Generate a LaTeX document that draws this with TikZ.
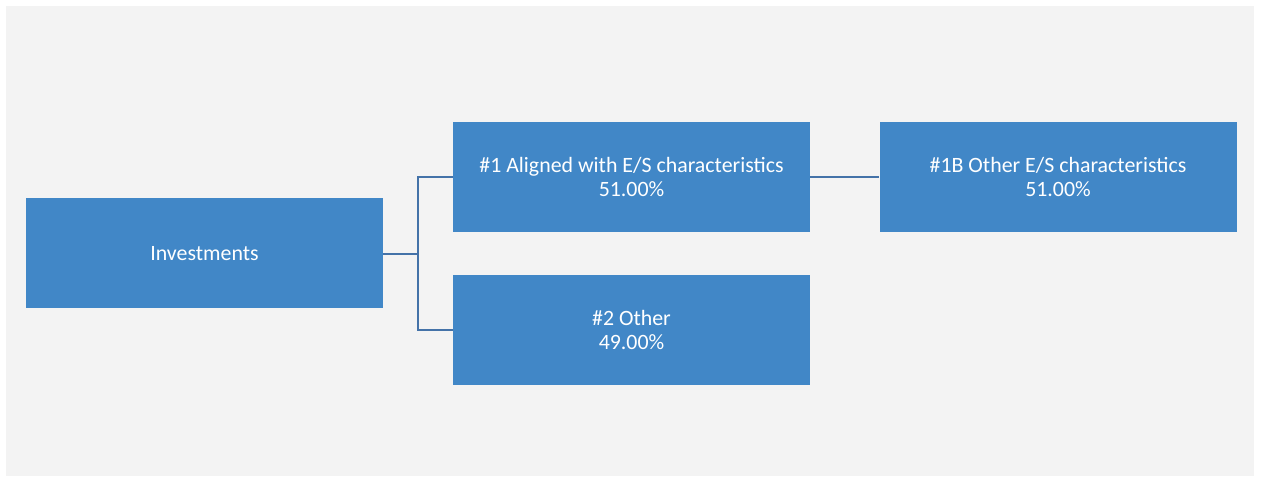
\documentclass[tikz,border=0pt]{standalone}
\usepackage{fontspec}
\setmainfont{Carlito}
\definecolor{bg}{RGB}{243,243,243}
\definecolor{boxblue}{RGB}{65,135,199}
\definecolor{linkblue}{RGB}{68,114,168}
\begin{document}
\begin{tikzpicture}[x=0.75pt,y=-0.75pt,
  box/.style={draw=none,fill=boxblue,text=white,align=center,inner sep=0pt,
    minimum width=357*0.75pt,minimum height=110*0.75pt,
    font=\fontsize{16.4}{18}\selectfont},
  link/.style={draw=linkblue,line width=1.6pt}]
\useasboundingbox (0,0) rectangle (1261,477);
\fill[white] (0,0) rectangle (1261,477);
\fill[bg] (6,6) rectangle (1254,476);
\node[box] (inv) at (204.5,253.5) {Investments};
\node[box] (a1) at (631.5,177) {\#1 Aligned with E/S characteristics\\51.00\%};
\node[box] (a1b) at (1058,177) {\#1B Other E/S characteristics\\51.00\%};
\node[box] (o2) at (631.5,330) {\#2 Other\\49.00\%};
\coordinate (j) at (418,254);
\draw[link] (inv.east |- j) -- (j);
\draw[link] (a1.west) -| (j) |- (o2.west);
\draw[link] (a1.east) -- (a1b.west);
\end{tikzpicture}
\end{document}
